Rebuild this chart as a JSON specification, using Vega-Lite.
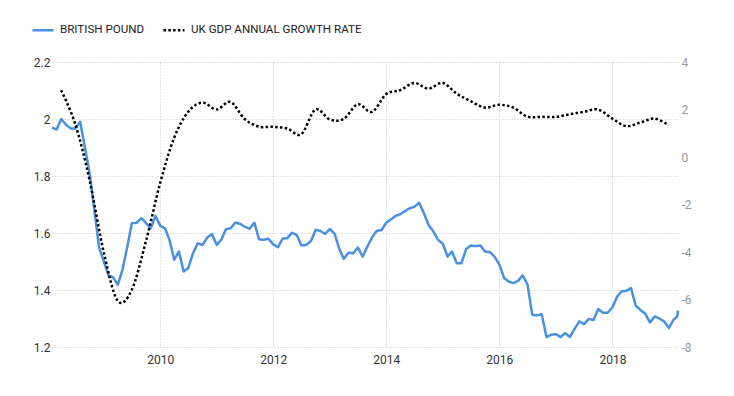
{
  "$schema": "https://vega.github.io/schema/vega-lite/v6.json",
  "width": 626,
  "height": 285,
  "autosize": {"type": "none"},
  "padding": {"left": 52, "top": 62, "right": 56, "bottom": 49},
  "background": "white",
  "config": {
    "view": {"stroke": null},
    "font": "Roboto",
    "axis": {
      "grid": true,
      "gridDash": [1, 2],
      "gridColor": "#c4c4c4",
      "gridWidth": 1,
      "ticks": false,
      "domain": false,
      "title": null,
      "labelFont": "Roboto",
      "labelFontSize": 12
    }
  },
  "datasets": {
    "gbp": [
      {"date": "2008-02-01", "rate": 1.97},
      {"date": "2008-03-01", "rate": 1.963},
      {"date": "2008-04-01", "rate": 2.0},
      {"date": "2008-05-01", "rate": 1.98},
      {"date": "2008-06-01", "rate": 1.967},
      {"date": "2008-07-01", "rate": 1.967},
      {"date": "2008-08-01", "rate": 1.99},
      {"date": "2008-09-01", "rate": 1.9},
      {"date": "2008-10-01", "rate": 1.81},
      {"date": "2008-11-01", "rate": 1.68},
      {"date": "2008-12-01", "rate": 1.55},
      {"date": "2009-01-01", "rate": 1.5},
      {"date": "2009-02-01", "rate": 1.45},
      {"date": "2009-03-01", "rate": 1.445},
      {"date": "2009-04-01", "rate": 1.418},
      {"date": "2009-05-01", "rate": 1.47},
      {"date": "2009-06-01", "rate": 1.55},
      {"date": "2009-07-01", "rate": 1.634},
      {"date": "2009-08-01", "rate": 1.636},
      {"date": "2009-09-01", "rate": 1.652},
      {"date": "2009-10-01", "rate": 1.635},
      {"date": "2009-11-01", "rate": 1.617},
      {"date": "2009-12-01", "rate": 1.66},
      {"date": "2010-01-01", "rate": 1.625},
      {"date": "2010-02-01", "rate": 1.616},
      {"date": "2010-03-01", "rate": 1.576},
      {"date": "2010-04-01", "rate": 1.506},
      {"date": "2010-05-01", "rate": 1.535},
      {"date": "2010-06-01", "rate": 1.465},
      {"date": "2010-07-01", "rate": 1.477},
      {"date": "2010-08-01", "rate": 1.53},
      {"date": "2010-09-01", "rate": 1.564},
      {"date": "2010-10-01", "rate": 1.558},
      {"date": "2010-11-01", "rate": 1.585},
      {"date": "2010-12-01", "rate": 1.596},
      {"date": "2011-01-01", "rate": 1.558},
      {"date": "2011-02-01", "rate": 1.578},
      {"date": "2011-03-01", "rate": 1.613},
      {"date": "2011-04-01", "rate": 1.617},
      {"date": "2011-05-01", "rate": 1.637},
      {"date": "2011-06-01", "rate": 1.632},
      {"date": "2011-07-01", "rate": 1.622},
      {"date": "2011-08-01", "rate": 1.615},
      {"date": "2011-09-01", "rate": 1.636},
      {"date": "2011-10-01", "rate": 1.578},
      {"date": "2011-11-01", "rate": 1.576},
      {"date": "2011-12-01", "rate": 1.58},
      {"date": "2012-01-01", "rate": 1.56},
      {"date": "2012-02-01", "rate": 1.55},
      {"date": "2012-03-01", "rate": 1.58},
      {"date": "2012-04-01", "rate": 1.582},
      {"date": "2012-05-01", "rate": 1.601},
      {"date": "2012-06-01", "rate": 1.593},
      {"date": "2012-07-01", "rate": 1.556},
      {"date": "2012-08-01", "rate": 1.558},
      {"date": "2012-09-01", "rate": 1.572},
      {"date": "2012-10-01", "rate": 1.611},
      {"date": "2012-11-01", "rate": 1.607},
      {"date": "2012-12-01", "rate": 1.597},
      {"date": "2013-01-01", "rate": 1.614},
      {"date": "2013-02-01", "rate": 1.597},
      {"date": "2013-03-01", "rate": 1.547},
      {"date": "2013-04-01", "rate": 1.509},
      {"date": "2013-05-01", "rate": 1.531},
      {"date": "2013-06-01", "rate": 1.529},
      {"date": "2013-07-01", "rate": 1.549},
      {"date": "2013-08-01", "rate": 1.517},
      {"date": "2013-09-01", "rate": 1.553},
      {"date": "2013-10-01", "rate": 1.585},
      {"date": "2013-11-01", "rate": 1.608},
      {"date": "2013-12-01", "rate": 1.61},
      {"date": "2014-01-01", "rate": 1.637},
      {"date": "2014-02-01", "rate": 1.648},
      {"date": "2014-03-01", "rate": 1.66},
      {"date": "2014-04-01", "rate": 1.666},
      {"date": "2014-05-01", "rate": 1.677},
      {"date": "2014-06-01", "rate": 1.687},
      {"date": "2014-07-01", "rate": 1.692},
      {"date": "2014-08-01", "rate": 1.706},
      {"date": "2014-09-01", "rate": 1.669},
      {"date": "2014-10-01", "rate": 1.628},
      {"date": "2014-11-01", "rate": 1.605},
      {"date": "2014-12-01", "rate": 1.576},
      {"date": "2015-01-01", "rate": 1.562},
      {"date": "2015-02-01", "rate": 1.517},
      {"date": "2015-03-01", "rate": 1.535},
      {"date": "2015-04-01", "rate": 1.494},
      {"date": "2015-05-01", "rate": 1.494},
      {"date": "2015-06-01", "rate": 1.544},
      {"date": "2015-07-01", "rate": 1.556},
      {"date": "2015-08-01", "rate": 1.554},
      {"date": "2015-09-01", "rate": 1.556},
      {"date": "2015-10-01", "rate": 1.535},
      {"date": "2015-11-01", "rate": 1.533},
      {"date": "2015-12-01", "rate": 1.517},
      {"date": "2016-01-01", "rate": 1.49},
      {"date": "2016-02-01", "rate": 1.442},
      {"date": "2016-03-01", "rate": 1.43},
      {"date": "2016-04-01", "rate": 1.424},
      {"date": "2016-05-01", "rate": 1.432},
      {"date": "2016-06-01", "rate": 1.451},
      {"date": "2016-07-01", "rate": 1.42},
      {"date": "2016-08-01", "rate": 1.313},
      {"date": "2016-09-01", "rate": 1.311},
      {"date": "2016-10-01", "rate": 1.315},
      {"date": "2016-11-01", "rate": 1.235},
      {"date": "2016-12-01", "rate": 1.243},
      {"date": "2017-01-01", "rate": 1.245},
      {"date": "2017-02-01", "rate": 1.235},
      {"date": "2017-03-01", "rate": 1.249},
      {"date": "2017-04-01", "rate": 1.235},
      {"date": "2017-05-01", "rate": 1.263},
      {"date": "2017-06-01", "rate": 1.29},
      {"date": "2017-07-01", "rate": 1.28},
      {"date": "2017-08-01", "rate": 1.298},
      {"date": "2017-09-01", "rate": 1.295},
      {"date": "2017-10-01", "rate": 1.333},
      {"date": "2017-11-01", "rate": 1.32},
      {"date": "2017-12-01", "rate": 1.32},
      {"date": "2018-01-01", "rate": 1.339},
      {"date": "2018-02-01", "rate": 1.377},
      {"date": "2018-03-01", "rate": 1.395},
      {"date": "2018-04-01", "rate": 1.397},
      {"date": "2018-05-01", "rate": 1.407},
      {"date": "2018-06-01", "rate": 1.345},
      {"date": "2018-07-01", "rate": 1.33},
      {"date": "2018-08-01", "rate": 1.317},
      {"date": "2018-09-01", "rate": 1.286},
      {"date": "2018-10-01", "rate": 1.307},
      {"date": "2018-11-01", "rate": 1.3},
      {"date": "2018-12-01", "rate": 1.29},
      {"date": "2019-01-01", "rate": 1.267},
      {"date": "2019-02-01", "rate": 1.296},
      {"date": "2019-02-24", "rate": 1.307},
      {"date": "2019-03-01", "rate": 1.328}
    ],
    "gdp": [
      {"date": "2008-03-31", "growth": 2.81},
      {"date": "2008-06-30", "growth": 1.4},
      {"date": "2008-09-30", "growth": -0.95},
      {"date": "2008-12-31", "growth": -4.0},
      {"date": "2009-03-31", "growth": -6.05},
      {"date": "2009-06-30", "growth": -5.6},
      {"date": "2009-09-30", "growth": -3.55},
      {"date": "2009-12-31", "growth": -1.1},
      {"date": "2010-03-31", "growth": 0.8},
      {"date": "2010-06-30", "growth": 1.9},
      {"date": "2010-09-30", "growth": 2.29},
      {"date": "2010-12-31", "growth": 2.0},
      {"date": "2011-03-31", "growth": 2.32},
      {"date": "2011-06-30", "growth": 1.6},
      {"date": "2011-09-30", "growth": 1.28},
      {"date": "2011-12-31", "growth": 1.27},
      {"date": "2012-03-31", "growth": 1.2},
      {"date": "2012-06-30", "growth": 0.96},
      {"date": "2012-09-30", "growth": 2.0},
      {"date": "2012-12-31", "growth": 1.58},
      {"date": "2013-03-31", "growth": 1.6},
      {"date": "2013-06-30", "growth": 2.22},
      {"date": "2013-09-30", "growth": 1.9},
      {"date": "2013-12-31", "growth": 2.65},
      {"date": "2014-03-31", "growth": 2.81},
      {"date": "2014-06-30", "growth": 3.12},
      {"date": "2014-09-30", "growth": 2.88},
      {"date": "2014-12-31", "growth": 3.12},
      {"date": "2015-03-31", "growth": 2.67},
      {"date": "2015-06-30", "growth": 2.35},
      {"date": "2015-09-30", "growth": 2.08},
      {"date": "2015-12-31", "growth": 2.2},
      {"date": "2016-03-31", "growth": 2.08},
      {"date": "2016-06-30", "growth": 1.7},
      {"date": "2016-09-30", "growth": 1.69},
      {"date": "2016-12-31", "growth": 1.69},
      {"date": "2017-03-31", "growth": 1.8},
      {"date": "2017-06-30", "growth": 1.9},
      {"date": "2017-09-30", "growth": 2.0},
      {"date": "2017-12-31", "growth": 1.62},
      {"date": "2018-03-31", "growth": 1.3},
      {"date": "2018-06-30", "growth": 1.45},
      {"date": "2018-09-30", "growth": 1.62},
      {"date": "2018-12-31", "growth": 1.34}
    ]
  },
  "layer": [
    {
      "data": {"name": "gbp"},
      "mark": {"type": "line", "strokeWidth": 2.5, "strokeJoin": "round"},
      "encoding": {
        "x": {
          "field": "date", "type": "temporal",
          "scale": {"domain": [{"year": 2008, "month": 2, "date": 1}, {"year": 2019, "month": 3, "date": 1}]},
          "axis": {"format": "%Y", "tickCount": {"interval": "year", "step": 2}, "labelPadding": 7, "labelColor": "#333333"}
        },
        "y": {
          "field": "rate", "type": "quantitative",
          "scale": {"domain": [1.2, 2.2], "nice": false, "zero": false},
          "axis": {"orient": "left", "values": [1.2, 1.4, 1.6, 1.8, 2, 2.2], "labelExpr": "'' + datum.value", "labelPadding": 2, "labelColor": "#333333"}
        },
        "color": {
          "datum": "BRITISH POUND", "type": "nominal",
          "scale": {"domain": ["BRITISH POUND", "UK GDP ANNUAL GROWTH RATE"], "range": ["#4a90e2", "#000000"]},
          "legend": {"orient": "none", "legendX": -21, "legendY": -44, "direction": "horizontal", "title": null, "symbolType": "stroke", "symbolSize": 441, "symbolStrokeWidth": 2.5, "labelFont": "Roboto", "labelFontSize": 11.6, "labelColor": "#222222", "labelOffset": 5, "columnPadding": 13, "padding": 0, "labelLimit": 400}
        },
        "strokeDash": {
          "datum": "BRITISH POUND", "type": "nominal",
          "scale": {"domain": ["BRITISH POUND", "UK GDP ANNUAL GROWTH RATE"], "range": [[1, 0], [2.5, 2.3]]},
          "legend": {"orient": "none", "legendX": -21, "legendY": -44, "direction": "horizontal", "title": null, "symbolType": "stroke", "symbolSize": 441, "symbolStrokeWidth": 2.5, "labelFont": "Roboto", "labelFontSize": 11.6, "labelColor": "#222222", "labelOffset": 5, "columnPadding": 13, "padding": 0, "labelLimit": 400}
        }
      }
    },
    {
      "data": {"name": "gdp"},
      "mark": {"type": "line", "strokeWidth": 2.5, "interpolate": "cardinal"},
      "encoding": {
        "x": {"field": "date", "type": "temporal"},
        "y": {
          "field": "growth", "type": "quantitative",
          "scale": {"domain": [-8, 4], "nice": false, "zero": false},
          "axis": {"orient": "right", "values": [-8, -6, -4, -2, 0, 2, 4], "labelExpr": "'' + datum.value", "labelPadding": 3, "labelColor": "#999999"}
        },
        "color": {"datum": "UK GDP ANNUAL GROWTH RATE", "type": "nominal"},
        "strokeDash": {"datum": "UK GDP ANNUAL GROWTH RATE", "type": "nominal"}
      }
    }
  ],
  "resolve": {"scale": {"y": "independent"}}
}
